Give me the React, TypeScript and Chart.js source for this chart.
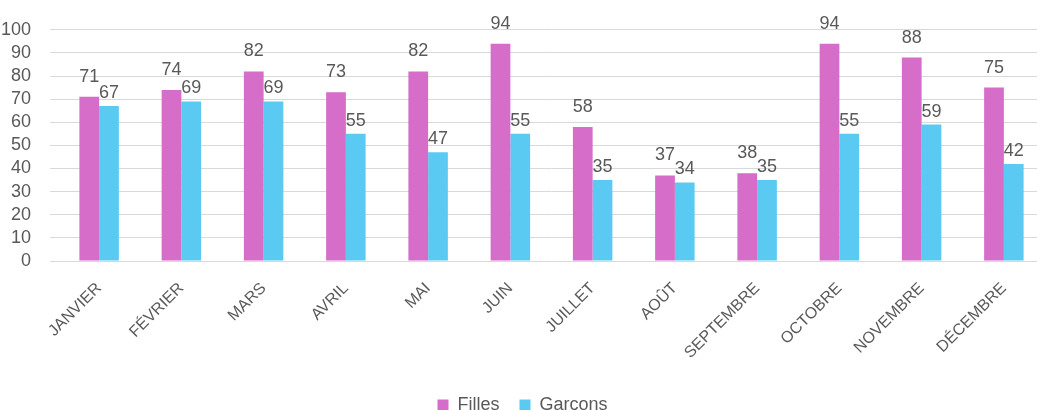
import React, { useEffect, useRef } from "react";
import { Chart, registerables } from "chart.js";

Chart.register(...registerables);

const categories = ["JANVIER", "FÉVRIER", "MARS", "AVRIL", "MAI", "JUIN", "JUILLET", "AOÛT", "SEPTEMBRE", "OCTOBRE", "NOVEMBRE", "DÉCEMBRE"];
const filles = [71, 74, 82, 73, 82, 94, 58, 37, 38, 94, 88, 75];
const garcons = [67, 69, 69, 55, 47, 55, 35, 34, 35, 55, 59, 42];

const FONT = "'Liberation Sans', Arial, sans-serif";
const TEXT = "#595959";
const labelOffsets = [15, 8];

const valueLabels = {
  id: "valueLabels",
  afterDatasetsDraw(chart: any) {
    const ctx = chart.ctx;
    ctx.save();
    ctx.fillStyle = TEXT;
    ctx.font = `18px ${FONT}`;
    ctx.textAlign = "center";
    ctx.textBaseline = "alphabetic";
    chart.data.datasets.forEach((ds: any, di: number) => {
      const meta = chart.getDatasetMeta(di);
      meta.data.forEach((el: any, i: number) => {
        ctx.fillText(String(ds.data[i]), el.x, el.y - labelOffsets[di]);
      });
    });
    ctx.restore();
  },
};

export default function App() {
  const ref = useRef<HTMLCanvasElement>(null);
  useEffect(() => {
    document.body.style.margin = "0";
    const chart = new Chart(ref.current!, {
      type: "bar",
      data: {
        labels: categories,
        datasets: [
          { label: "Filles", data: filles, backgroundColor: "#D66DC8", categoryPercentage: 0.48, barPercentage: 1 },
          { label: "Garcons", data: garcons, backgroundColor: "#5BCAF2", categoryPercentage: 0.48, barPercentage: 1 },
        ],
      },
      options: {
        animation: false,
        responsive: false,
        layout: { padding: { top: 14, right: 0, left: 0, bottom: 0 } },
        plugins: {
          tooltip: { enabled: false },
          legend: {
            position: "bottom",
            labels: { color: TEXT, font: { family: FONT, size: 18 }, boxWidth: 11, boxHeight: 11, padding: 20 },
          },
        },
        scales: {
          x: {
            grid: { display: false },
            border: { display: false },
            afterFit: (s: any) => { s.height = 115; },
            ticks: { color: TEXT, font: { family: FONT, size: 16 }, minRotation: 45, maxRotation: 45, autoSkip: false, padding: 10 },
          },
          y: {
            min: 0,
            max: 100,
            afterFit: (s: any) => { s.width = 58; },
            grid: { color: "#D9D9D9", lineWidth: 1 },
            border: { display: false },
            ticks: { stepSize: 10, autoSkip: false, color: TEXT, font: { family: FONT, size: 18 }, padding: 19 },
          },
        },
      },
      plugins: [valueLabels],
    });
    return () => chart.destroy();
  }, []);
  return (
    <div style={{ width: 1037, height: 410, overflow: "hidden" }}>
      <canvas ref={ref} width={1045} height={424} style={{ display: "block" }} />
    </div>
  );
}
